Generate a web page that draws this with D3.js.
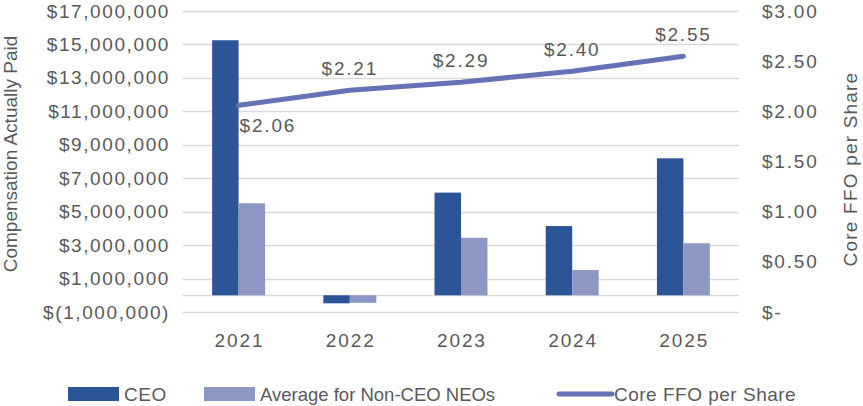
<!DOCTYPE html>
<html>
<head>
<meta charset="utf-8">
<script src="https://cdn.jsdelivr.net/npm/d3@7"></script>
<style>
  html, body { margin: 0; padding: 0; background: #ffffff; }
  svg { display: block; }
  text { font-family: "Liberation Sans", Arial, sans-serif; fill: #595959; }
</style>
</head>
<body>
<svg id="chart" width="863" height="406"></svg>
<script>
// ---- data ----
const years = ["2021", "2022", "2023", "2024", "2025"];
const ceo = [15250000, -480000, 6140000, 4140000, 8190000];
const neo = [5500000, -450000, 3440000, 1510000, 3110000];
const ffo = [2.06, 2.21, 2.29, 2.40, 2.55];
const ffoLabels = ["$2.06", "$2.21", "$2.29", "$2.40", "$2.55"];
const leftTicks = [-1000000, 1000000, 3000000, 5000000, 7000000, 9000000, 11000000, 13000000, 15000000, 17000000];
const leftTickLabels = ["$(1,000,000)", "$1,000,000", "$3,000,000", "$5,000,000", "$7,000,000", "$9,000,000", "$11,000,000", "$13,000,000", "$15,000,000", "$17,000,000"];
const rightTicks = [0, 0.5, 1.0, 1.5, 2.0, 2.5, 3.0];
const rightTickLabels = ["$-", "$0.50", "$1.00", "$1.50", "$2.00", "$2.50", "$3.00"];
const seriesNames = ["CEO", "Average for Non-CEO NEOs", "Core FFO per Share"];
const colors = { ceo: "#2b5597", neo: "#8d97c4", line: "#6572b6", grid: "#d9d9d9" };

// ---- layout ----
const svg = d3.select("#chart");
const plot = { left: 183, right: 739, top: 11, bottom: 312 };

const x = d3.scaleBand().domain(years).range([plot.left, plot.right]).paddingInner(0).paddingOuter(0);
const groupW = x.bandwidth() / 2.1;
const xSub = d3.scaleBand().domain(["ceo", "neo"]).range([0, groupW]);
const yL = d3.scaleLinear().domain([-1000000, 17000000]).range([plot.bottom, plot.top]);
const yR = d3.scaleLinear().domain([0, 3]).range([plot.bottom, plot.top]);

// gridlines
svg.append("g").selectAll("line").data(leftTicks.concat([0])).join("line")
  .attr("x1", plot.left).attr("x2", plot.right)
  .attr("y1", d => Math.round(yL(d)) + 0.5).attr("y2", d => Math.round(yL(d)) + 0.5)
  .attr("stroke", colors.grid).attr("stroke-width", 1.5);

// left axis
const leftAxis = d3.axisLeft(yL).tickValues(leftTicks)
  .tickFormat((d, i) => leftTickLabels[i]).tickSize(0).tickPadding(0);
const gL = svg.append("g").attr("transform", `translate(${170},0)`).call(leftAxis);
gL.select(".domain").remove();
gL.selectAll("text").attr("font-size", 19).attr("fill", "#595959")
  .style("letter-spacing", "1.6px").attr("font-family", "Liberation Sans, Arial, sans-serif");

// right axis
const rightAxis = d3.axisRight(yR).tickValues(rightTicks)
  .tickFormat((d, i) => rightTickLabels[i]).tickSize(0).tickPadding(0);
const gR = svg.append("g").attr("transform", `translate(${762},0)`).call(rightAxis);
gR.select(".domain").remove();
gR.selectAll("text").attr("font-size", 19).attr("fill", "#595959")
  .style("letter-spacing", "1.8px").attr("font-family", "Liberation Sans, Arial, sans-serif");

// bottom axis labels
const bottomAxis = d3.axisBottom(x).tickSize(0).tickPadding(0);
const gB = svg.append("g").attr("transform", `translate(0,${333})`).call(bottomAxis);
gB.select(".domain").remove();
gB.selectAll("text").attr("font-size", 19).attr("fill", "#595959")
  .style("letter-spacing", "1.9px").attr("font-family", "Liberation Sans, Arial, sans-serif")
  .attr("dx", "0.9px");

// bars
const bars = svg.append("g");
years.forEach((yr, i) => {
  const gx = x(yr) + (x.bandwidth() - groupW) / 2;
  [["ceo", ceo[i]], ["neo", neo[i]]].forEach(([k, v]) => {
    bars.append("rect")
      .attr("x", gx + xSub(k))
      .attr("width", xSub.bandwidth())
      .attr("y", Math.min(yL(v), yL(0)))
      .attr("height", Math.abs(yL(v) - yL(0)))
      .attr("fill", colors[k]);
  });
});

// line
const line = d3.line().x((d, i) => x(years[i]) + x.bandwidth() / 2).y(d => yR(d));
svg.append("path").datum(ffo).attr("d", line)
  .attr("fill", "none").attr("stroke", colors.line).attr("stroke-width", 5)
  .attr("stroke-linejoin", "round").attr("stroke-linecap", "round");

// data labels
svg.append("g").selectAll("text").data(ffo).join("text")
  .attr("x", (d, i) => x(years[i]) + x.bandwidth() / 2 + (i === 0 ? 1 : 0))
  .attr("y", (d, i) => i === 0 ? yR(d) + 27 : yR(d) - 15)
  .attr("text-anchor", (d, i) => i === 0 ? "start" : "middle")
  .attr("font-size", 19).style("letter-spacing", "1.8px")
  .text((d, i) => ffoLabels[i]);

// axis titles
svg.append("text")
  .attr("transform", `translate(${17},${154}) rotate(-90)`)
  .attr("text-anchor", "middle").attr("font-size", 19)
  .text("Compensation Actually Paid");
svg.append("text")
  .attr("transform", `translate(${857},${169}) rotate(-90)`)
  .attr("text-anchor", "middle").attr("font-size", 19).style("letter-spacing", "1.2px")
  .text("Core FFO per Share");

// legend
const lg = svg.append("g");
lg.append("rect").attr("x", 68).attr("y", 387).attr("width", 51).attr("height", 14).attr("fill", colors.ceo);
lg.append("text").attr("x", 124).attr("y", 401).attr("font-size", 19).style("letter-spacing", "0.6px").text(seriesNames[0]);
lg.append("rect").attr("x", 204).attr("y", 387).attr("width", 51).attr("height", 14).attr("fill", colors.neo);
lg.append("text").attr("x", 260).attr("y", 401).attr("font-size", 18.5).text(seriesNames[1]);
lg.append("line").attr("x1", 559).attr("x2", 612).attr("y1", 394).attr("y2", 394)
  .attr("stroke", colors.line).attr("stroke-width", 5).attr("stroke-linecap", "round");
lg.append("text").attr("x", 614).attr("y", 401).attr("font-size", 19).style("letter-spacing", "0.5px").text(seriesNames[2]);
</script>
</body>
</html>
